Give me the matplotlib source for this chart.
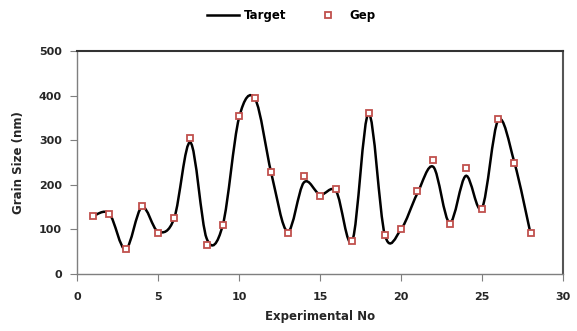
import numpy as np
import matplotlib.pyplot as plt
from matplotlib.path import Path
from matplotlib.patches import PathPatch
from matplotlib.lines import Line2D

exp_no = list(range(1, 29))
target = [130, 135, 55, 150, 95, 125, 295, 80, 110, 350, 392, 225, 95, 205,
          178, 185, 75, 360, 88, 100, 180, 240, 115, 220, 148, 345, 250, 90]
gep = [130, 135, 55, 153, 93, 125, 305, 65, 110, 355, 395, 228, 93, 220,
       175, 190, 75, 360, 88, 102, 185, 255, 112, 238, 145, 348, 250, 92]

fig = plt.figure(figsize=(5.77, 3.31), dpi=100)
ax = fig.add_axes([77/577, 1-274/331, (563-77)/577, (274-51)/331])

# smoothed line the way a spreadsheet draws it (bezier through the points)
x = np.array(exp_no, dtype=float)
y = np.array(target, dtype=float)
verts = [(x[0], y[0])]
codes = [Path.MOVETO]
n = len(x)
for i in range(n - 1):
    p0 = (x[max(i-1, 0)], y[max(i-1, 0)])
    p1 = (x[i], y[i])
    p2 = (x[i+1], y[i+1])
    p3 = (x[min(i+2, n-1)], y[min(i+2, n-1)])
    c1 = (p1[0] + (p2[0]-p0[0])/6, p1[1] + (p2[1]-p0[1])/6)
    c2 = (p2[0] - (p3[0]-p1[0])/6, p2[1] - (p3[1]-p1[1])/6)
    verts += [c1, c2, p2]
    codes += [Path.CURVE4]*3
ax.add_patch(PathPatch(Path(verts, codes), fill=False, ec='black', lw=1.8, zorder=2))

ax.plot(exp_no, gep, ls='none', marker='s', ms=4.5, mfc='white', mec='#C0504D',
        mew=1.3, zorder=3)

ax.set_xlim(0, 30)
ax.set_ylim(0, 500)
ax.set_xticks(range(0, 31, 5))
ax.set_yticks(range(0, 501, 100))
ax.tick_params(direction='out', length=5, color='#7f7f7f', labelsize=8, labelcolor='#262626')
ax.tick_params(axis='x', pad=8)
ax.tick_params(axis='y', pad=6)
for lab in ax.get_xticklabels() + ax.get_yticklabels():
    lab.set_fontweight('bold')
for s in ['left', 'bottom']:
    ax.spines[s].set_color('#7f7f7f')
    ax.spines[s].set_linewidth(1)
ax.spines['top'].set_color('#333333')
ax.spines['top'].set_linewidth(1.5)
ax.spines['right'].set_color('#555555')
ax.spines['right'].set_linewidth(1.5)

ax.set_xlabel('Experimental No', fontsize=8.5, fontweight='bold', color='#262626', labelpad=6)
ax.set_ylabel('Grain Size (nm)', fontsize=8.5, fontweight='bold', color='#262626', labelpad=10)

handles = [Line2D([], [], color='black', lw=1.8),
           Line2D([], [], ls='none', marker='s', ms=4.5, mfc='white', mec='#C0504D', mew=1.3)]
fig.legend(handles, ['Target', 'Gep'], loc='center', bbox_to_anchor=(0.505, 0.952), ncol=2,
           frameon=False, prop={'size': 8.5, 'weight': 'bold'}, handlelength=2.7,
           handletextpad=0.4, columnspacing=2.2)

fig.savefig('out.png', dpi=100)
